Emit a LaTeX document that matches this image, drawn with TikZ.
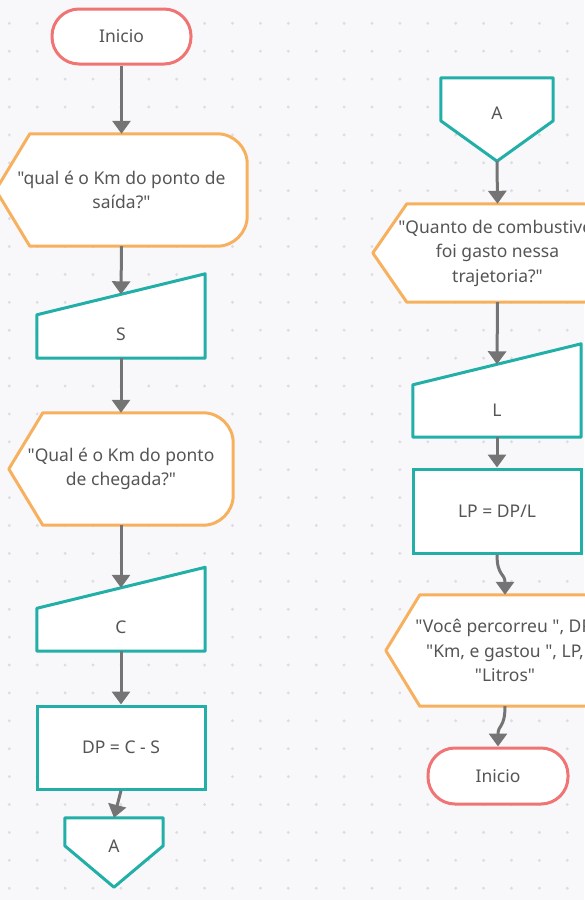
\documentclass[tikz,border=0pt]{standalone}
\usepackage{fontspec}
\setmainfont{Noto Sans}[Ligatures=TeXOff]
\usepackage{xcolor}
\usepackage{tikz}
\usetikzlibrary{arrows.meta, calc}
\definecolor{bggray}{HTML}{F8F8FB}
\definecolor{dotgray}{HTML}{DCDCE2}
\definecolor{textgray}{HTML}{555555}
\definecolor{linegray}{HTML}{747474}
\definecolor{flowteal}{HTML}{22AFA8}
\definecolor{floworange}{HTML}{F7B05E}
\definecolor{flowred}{HTML}{F07474}
\pgfdeclarelayer{bg}
\pgfdeclarelayer{shapes}
\pgfsetlayers{bg,shapes,main}
\tikzset{
  box/.style={align=center, text=textgray, inner sep=0pt,
    font=\fontsize{17.5}{24.5}\selectfont},
  terminal/.style={box, draw=flowred, fill=white, line width=3pt,
    rounded corners=27pt, minimum width=139pt, minimum height=55pt},
  process/.style={box, draw=flowteal, fill=white, line width=3pt,
    minimum width=168pt, minimum height=83pt},
  outline/.style={line width=3pt, fill=white, line join=round},
  flow/.style={draw=linegray, line width=3pt, -{Triangle[width=18pt,length=13pt]}}
}

\begin{document}
\begin{tikzpicture}[x=1pt, y=-1pt]
    \useasboundingbox (0,0) rectangle (584,900);
    \begin{pgfonlayer}{bg}
      \fill[bggray] (0,0) rectangle (584,900);
      \foreach \i in {0,...,21}
        \foreach \j in {0,...,32}
          \fill[dotgray] (9.3+27.9*\i,23.3+27.9*\j) circle (1.6);
    \end{pgfonlayer}

    \node[terminal] (start) at (121.5,36.5) {Inicio};
    \node[box, minimum width=251pt, minimum height=112pt] (d1) at (121.5,190)
      {"qual é o Km do ponto de\\saída?"};
    \node[box, minimum width=168pt, minimum height=63.5pt, text height=28.5pt] (in1) at (121,326.25) {S};
    \node[box, minimum width=224pt, minimum height=112pt] (d2) at (121,469)
      {"Qual é o Km do ponto\\de chegada?"};
    \node[box, minimum width=168pt, minimum height=63pt, text height=27.5pt] (in2) at (121,619.5) {C};
    \node[process] (dp) at (121,747.5) {DP = C - S};
    \node[box, minimum width=98pt, minimum height=69pt, text depth=12pt] (a1) at (114,852.5) {A};

    \node[box, minimum width=112pt, minimum height=83pt, text depth=13pt] (a2) at (497,119.5) {A};
    \node[box, minimum width=249pt, minimum height=98pt] (d3) at (497.5,253)
      {"Quanto de combustivel\\foi gasto nessa\\trajetoria?"};
    \node[box, minimum width=168pt, minimum height=72.5pt, text height=30.5pt] (in3) at (497,400.75) {L};
    \node[process, minimum height=84pt] (lp) at (497,511) {LP = DP/L};
    \node[box, minimum width=238pt, minimum height=111pt] (d4) at (505,650.5)
      {"Você percorreu ", DP,\\"Km, e gastou ", LP,\\"Litros"};
    \node[terminal, minimum width=140pt, minimum height=56pt] (stop) at (498,776) {Inicio};

    \begin{pgfonlayer}{shapes}
      \foreach \n in {d1,d2,d3,d4}
        \draw[outline, draw=floworange] (\n.west) -- ($(\n.north west)+(34,0)$)
          -- ($(\n.north east)+(-30,0)$) .. controls +(16.5,0) and +(0,-16.5) .. ($(\n.north east)+(0,30)$)
          -- ($(\n.south east)+(0,-30)$) .. controls +(0,16.5) and +(16.5,0) .. ($(\n.south east)+(-30,0)$)
          -- ($(\n.south west)+(34,0)$) -- cycle;
      \foreach \n in {in1,in2,in3}
        \draw[outline, draw=flowteal] (\n.south west) -- ($(\n.north west)+(0,20.5)$)
          -- ($(\n.north east)+(0,-20.5)$) -- (\n.south east) -- cycle;
      \foreach \n/\s in {a1/28,a2/43}
        \draw[outline, draw=flowteal] (\n.north west) -- (\n.north east)
          -- ($(\n.north east)+(0,\s)$) -- (\n.south) -- ($(\n.north west)+(0,\s)$) -- cycle;
    \end{pgfonlayer}

    \draw[flow] (start.south) -- (d1.north);
    \draw[flow] (d1.south) -- (in1.north);
    \draw[flow] (in1.south) -- (d2.north);
    \draw[flow] (d2.south) -- (in2.north);
    \draw[flow] (in2.south) -- (dp.north);
    \draw[flow] (dp.south) -- (a1.north);
    \draw[flow] (a2.south) -- (d3.north);
    \draw[flow] (d3.south) -- (in3.north);
    \draw[flow] (in3.south) -- (lp.north);
    \draw[flow] (lp.south) .. controls +(0,22) and +(0,-22) .. (d4.north);
    \draw[flow] (d4.south) .. controls +(0,22) and +(0,-22) .. (stop.north);
\end{tikzpicture}
\end{document}
